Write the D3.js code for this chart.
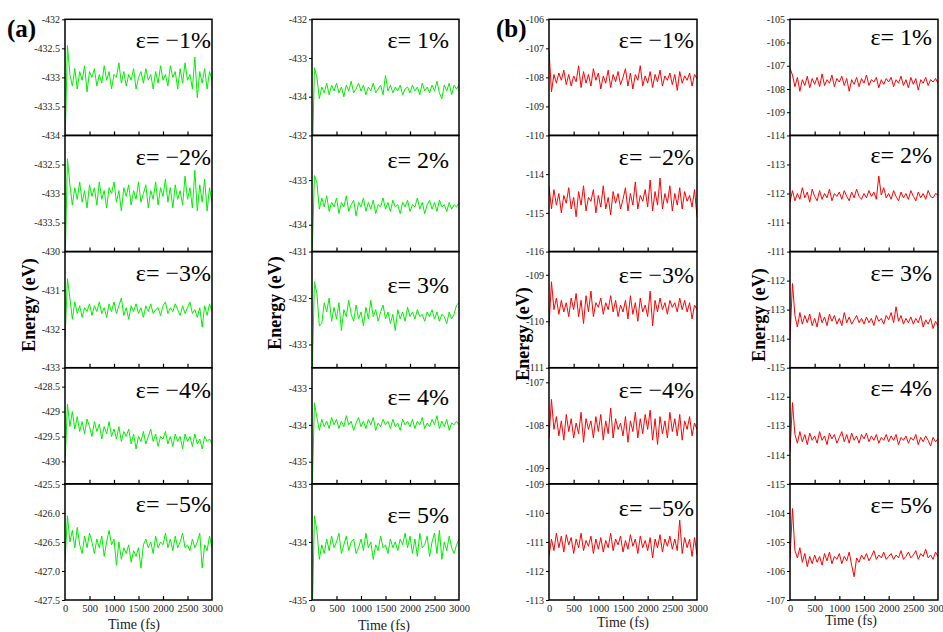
<!DOCTYPE html>
<html>
<head>
<meta charset="utf-8">
<script src="https://cdn.jsdelivr.net/npm/d3@7"></script>
<style>
  body { margin: 0; background: #fff; }
  text { font-family: "Liberation Serif", "Times New Roman", serif; }
</style>
</head>
<body>
<div id="chart"></div>
<script>
// sampling times (fs)
var timeFs = [0, 50, 100, 150, 200, 250, 300, 350, 400, 450,
  500, 550, 600, 650, 700, 750, 800, 850, 900, 950,
  1000, 1050, 1100, 1150, 1200, 1250, 1300, 1350, 1400, 1450,
  1500, 1550, 1600, 1650, 1700, 1750, 1800, 1850, 1900, 1950,
  2000, 2050, 2100, 2150, 2200, 2250, 2300, 2350, 2400, 2450,
  2500, 2550, 2600, 2650, 2700, 2750, 2800, 2850, 2900, 2950, 3000];
var timeTicks = ["0", "500", "1000", "1500", "2000", "2500", "3000"];

var strainNeg = ["ε= −1%", "ε= −2%", "ε= −3%", "ε= −4%", "ε= −5%"];
var strainPos = ["ε= 1%", "ε= 2%", "ε= 3%", "ε= 4%", "ε= 5%"];

// (a) negative strain, green
var aNeg1 = [-434.2, -432.45, -432.95, -433.15, -432.85, -433.2, -432.9, -433.05, -432.8, -433.25,
  -432.9, -433.0, -432.85, -433.15, -432.95, -433.1, -432.8, -433.05, -432.9, -433.2,
  -432.95, -433.0, -432.75, -433.1, -432.9, -433.15, -432.95, -433.05, -432.85, -433.2,
  -433.0, -432.9, -433.1, -432.85, -433.05, -432.95, -433.2, -432.9, -433.1, -432.8,
  -433.05, -432.95, -433.15, -432.8, -433.0, -432.9, -433.2, -432.85, -433.1, -432.75,
  -433.05, -432.95, -433.2, -432.65, -433.35, -432.9, -433.1, -432.85, -433.2, -432.9, -433.05];
var aNeg2 = [-434.3, -432.4, -432.85, -433.2, -432.9, -433.1, -432.8, -433.15, -432.95, -433.25,
  -432.85, -433.05, -432.9, -433.2, -432.8, -433.1, -432.95, -433.25, -432.9, -433.0,
  -432.8, -433.15, -432.95, -433.3, -432.9, -433.05, -432.85, -433.2, -432.95, -433.1,
  -432.8, -433.15, -433.0, -432.85, -433.25, -432.95, -433.1, -432.8, -433.2, -432.9,
  -433.05, -432.75, -433.15, -432.9, -433.25, -432.85, -433.1, -432.95, -433.2, -432.7,
  -433.1, -432.9, -433.25, -432.6, -433.3, -432.85, -433.15, -432.75, -433.3, -432.9, -433.15];
var aNeg3 = [-432.3, -430.7, -431.2, -431.75, -431.3, -431.6, -431.4, -431.7, -431.45, -431.55,
  -431.35, -431.65, -431.4, -431.55, -431.3, -431.6, -431.45, -431.7, -431.35, -431.55,
  -431.3, -431.6, -431.4, -431.2, -431.65, -431.45, -431.75, -431.4, -431.55, -431.35,
  -431.6, -431.45, -431.7, -431.4, -431.55, -431.35, -431.6, -431.5, -431.45, -431.65,
  -431.4, -431.3, -431.6, -431.45, -431.55, -431.35, -431.5, -431.65, -431.4, -431.6,
  -431.45, -431.3, -431.6, -431.5, -431.7, -431.45, -431.95, -431.4, -431.65, -431.35, -431.55];
var aNeg4 = [-430.1, -428.85, -429.3, -429.0, -429.35, -429.1, -429.4, -429.2, -429.45, -429.15,
  -429.3, -429.5, -429.2, -429.4, -429.25, -429.55, -429.3, -429.45, -429.2, -429.5,
  -429.35, -429.55, -429.3, -429.6, -429.4, -429.5, -429.35, -429.65, -429.45, -429.75,
  -429.5, -429.6, -429.4, -429.65, -429.5, -429.35, -429.6, -429.45, -429.7, -429.5,
  -429.55, -429.4, -429.65, -429.5, -429.7, -429.45, -429.6, -429.5, -429.75, -429.45,
  -429.6, -429.5, -429.7, -429.45, -429.65, -429.55, -429.75, -429.5, -429.6, -429.55, -429.65];
var aNeg5 = [-426.85, -426.05, -426.5, -426.3, -426.6, -426.25, -426.55, -426.7, -426.4, -426.6,
  -426.35, -426.5, -426.7, -426.45, -426.6, -426.4, -426.75, -426.5, -426.3, -426.55,
  -426.45, -426.9, -426.5, -426.8, -426.6, -426.7, -426.55, -426.85, -426.65, -426.75,
  -426.6, -426.95, -426.55, -426.45, -426.6, -426.5, -426.7, -426.4, -426.6, -426.5,
  -426.55, -426.35, -426.6, -426.45, -426.65, -426.4, -426.6, -426.5, -426.35, -426.6,
  -426.55, -426.65, -426.45, -426.6, -426.5, -426.35, -426.95, -426.55, -426.65, -426.4, -426.6];

// (a) positive strain, green
var aPos1 = [-436.0, -433.25, -433.5, -434.05, -433.75, -433.9, -433.65, -433.95, -433.7, -433.85,
  -433.65, -433.9, -433.75, -434.0, -433.7, -433.85, -433.6, -433.9, -433.8, -433.65,
  -433.85, -433.7, -433.95, -433.75, -433.85, -433.65, -433.9, -433.8, -433.7, -433.95,
  -433.45, -433.85, -433.7, -433.9, -433.75, -433.85, -433.7, -433.95, -433.8, -433.75,
  -433.9, -433.7, -433.85, -433.75, -433.95, -433.65, -433.85, -433.75, -433.9, -433.7,
  -433.85, -433.6, -433.9, -434.05, -433.7, -433.85, -433.65, -433.95, -433.7, -433.8, -433.7];
var aPos2 = [-434.8, -432.9, -433.05, -433.65, -433.4, -433.6, -433.35, -433.7, -433.5, -433.6,
  -433.4, -433.75, -433.5, -433.6, -433.35, -433.7, -433.55, -433.45, -433.8, -433.5,
  -433.6, -433.4, -433.7, -433.5, -433.65, -433.45, -433.75, -433.55, -433.6, -433.4,
  -433.65, -433.5, -433.7, -433.45, -433.6, -433.55, -433.75, -433.5, -433.6, -433.45,
  -433.7, -433.55, -433.6, -433.4, -433.65, -433.5, -433.75, -433.55, -433.45, -433.65,
  -433.5, -433.7, -433.45, -433.6, -433.55, -433.7, -433.5, -433.65, -433.55, -433.6, -433.5];
var aPos3 = [-433.8, -431.65, -431.9, -432.6, -432.55, -432.1, -432.3, -432.0, -432.5, -432.2,
  -432.45, -432.1, -432.7, -432.25, -432.4, -432.05, -432.35, -432.5, -432.15, -432.45,
  -432.3, -432.6, -432.2, -432.45, -432.05, -432.4, -432.25, -432.5, -432.3, -432.15,
  -432.45, -432.3, -432.55, -432.35, -432.7, -432.25, -432.45, -432.3, -432.5, -432.2,
  -432.4, -432.3, -432.45, -432.25, -432.4, -432.35, -432.5, -432.3, -432.4, -432.25,
  -432.45, -432.3, -432.5, -432.35, -432.4, -432.55, -432.3, -432.45, -432.35, -432.15, -432.1];
var aPos4 = [-436.0, -433.4, -433.8, -434.15, -433.85, -434.05, -433.9, -434.1, -433.8, -434.0,
  -433.85, -434.1, -433.9, -434.05, -433.75, -434.0, -433.9, -434.15, -433.95, -433.8,
  -434.05, -433.9, -434.1, -433.85, -434.0, -433.8, -434.15, -433.95, -434.05, -433.85,
  -434.0, -433.9, -434.1, -433.85, -434.05, -433.95, -434.15, -433.85, -434.0, -433.9,
  -434.05, -433.85, -434.1, -433.9, -434.0, -433.8, -434.1, -433.95, -434.05, -433.85,
  -434.0, -433.75, -434.1, -433.9, -434.05, -433.85, -434.15, -433.95, -434.0, -433.9, -434.0];
var aPos5 = [-435.5, -433.55, -433.8, -434.3, -434.05, -434.2, -433.95, -434.15, -433.9, -434.1,
  -434.0, -433.85, -434.2, -434.05, -433.9, -434.15, -434.0, -433.95, -434.2, -434.1,
  -433.95, -434.15, -433.85, -434.1, -434.0, -434.3, -434.05, -434.15, -433.9, -434.1,
  -434.05, -434.2, -433.95, -434.1, -434.0, -434.15, -433.95, -434.05, -433.85, -434.1,
  -433.9, -434.2, -433.95, -434.25, -433.85, -434.1, -434.05, -433.9, -434.25, -434.0,
  -433.85, -434.2, -433.8, -434.3, -434.0, -434.15, -433.9, -434.1, -434.2, -434.05, -433.95];

// (b) negative strain, red
var bNeg1 = [-107.05, -108.5, -107.9, -108.2, -107.85, -108.1, -107.75, -108.25, -107.9, -108.3,
  -107.95, -108.15, -107.6, -108.35, -107.8, -108.2, -107.9, -108.3, -107.7, -108.1,
  -107.85, -108.4, -107.95, -108.2, -107.75, -108.35, -107.9, -108.15, -107.8, -108.25,
  -108.0, -107.7, -108.3, -107.85, -108.4, -107.9, -108.1, -107.6, -108.3, -107.95,
  -108.2, -107.8, -108.35, -107.9, -108.15, -107.75, -108.3, -107.95, -108.1, -107.85,
  -108.25, -107.9, -108.45, -107.8, -108.2, -107.95, -108.1, -107.85, -108.3, -107.9, -108.05];
var bNeg2 = [-114.3, -114.9, -114.4, -114.8, -114.5, -115.0, -114.55, -114.75, -114.35, -114.9,
  -114.6, -115.1, -114.45, -114.8, -114.3, -114.95, -114.6, -114.7, -114.4, -115.0,
  -114.55, -114.85, -114.3, -114.9, -114.6, -115.05, -114.45, -114.75, -114.5, -114.9,
  -114.65, -114.35, -114.95, -114.5, -114.8, -114.2, -114.9, -114.55, -114.7, -114.4,
  -114.85, -114.15, -114.95, -114.45, -114.8, -114.1, -114.9, -114.5, -114.75, -114.3,
  -114.95, -114.5, -114.8, -114.35, -114.9, -114.45, -114.7, -114.55, -114.85, -114.4, -115.1];
var bNeg3 = [-110.1, -109.15, -109.75, -109.5, -109.85, -109.55, -109.8, -109.6, -109.9, -109.5,
  -109.75, -109.4, -109.9, -109.55, -110.05, -109.45, -109.8, -109.35, -109.9, -109.6,
  -109.7, -109.5, -109.85, -109.6, -109.75, -109.45, -109.8, -109.55, -109.9, -109.65,
  -109.8, -109.55, -109.95, -109.45, -109.85, -109.6, -110.0, -109.5, -109.8, -109.65,
  -109.9, -109.35, -110.1, -109.55, -109.8, -109.5, -109.75, -109.6, -109.85, -109.55,
  -109.7, -109.6, -109.8, -109.5, -109.75, -109.55, -109.8, -109.6, -109.95, -109.65, -109.75];
var bNeg4 = [-108.3, -107.4, -108.1, -107.8, -108.25, -107.9, -108.35, -107.75, -108.15, -107.85,
  -108.3, -107.95, -108.2, -107.7, -108.4, -107.85, -108.1, -107.9, -108.3, -107.8,
  -108.15, -107.75, -108.35, -107.9, -108.2, -107.6, -108.3, -107.85, -108.1, -107.95,
  -108.25, -107.8, -108.4, -107.9, -108.15, -107.7, -108.3, -107.85, -108.2, -107.75,
  -108.1, -107.65, -108.35, -107.85, -108.45, -107.8, -108.2, -107.9, -108.3, -107.7,
  -108.15, -107.85, -108.25, -107.75, -108.35, -107.9, -108.1, -107.8, -108.25, -107.95, -108.1];
var bNeg5 = [-111.5, -110.9, -111.3, -110.7, -111.2, -110.8, -111.35, -110.75, -111.1, -110.85,
  -111.4, -110.9, -111.2, -110.7, -111.3, -110.95, -111.15, -110.8, -111.4, -110.9,
  -111.25, -110.85, -111.35, -110.95, -111.2, -110.7, -111.3, -110.9, -111.1, -110.8,
  -111.35, -110.95, -111.25, -110.75, -111.15, -110.9, -111.4, -110.8, -111.2, -110.95,
  -111.3, -110.85, -111.55, -110.9, -111.2, -110.75, -111.35, -110.9, -111.15, -110.8,
  -111.25, -110.9, -111.3, -110.25, -111.4, -110.85, -111.2, -110.9, -111.5, -110.85, -111.45];

// (b) positive strain, red
var bPos1 = [-107.1, -107.4, -107.9, -107.5, -108.1, -107.6, -107.85, -107.45, -107.95, -107.55,
  -107.8, -107.5, -107.9, -107.35, -107.85, -107.6, -107.75, -107.4, -107.9, -107.55,
  -107.7, -107.45, -107.85, -107.55, -108.1, -107.6, -107.8, -107.5, -107.9, -107.55,
  -107.75, -107.4, -107.85, -107.6, -107.7, -107.5, -107.95, -107.6, -107.8, -107.55,
  -107.7, -107.5, -107.9, -107.6, -107.75, -107.45, -107.85, -107.6, -107.95, -107.5,
  -107.8, -107.55, -108.05, -107.6, -107.75, -107.5, -107.85, -107.6, -107.7, -107.55, -107.75];
var bPos2 = [-111.7, -112.1, -111.75, -112.0, -111.8, -112.2, -111.85, -112.05, -111.7, -112.15,
  -111.9, -111.75, -112.1, -111.8, -112.0, -111.85, -112.15, -111.75, -112.0, -111.9,
  -112.05, -111.8, -112.1, -111.9, -111.75, -112.05, -111.85, -112.15, -111.9, -111.8,
  -112.0, -111.85, -112.1, -111.9, -112.05, -111.8, -112.6, -111.95, -112.2, -111.85,
  -112.0, -111.8, -112.1, -111.9, -111.75, -112.05, -111.85, -112.0, -111.8, -112.1,
  -111.9, -111.75, -112.05, -111.85, -112.0, -111.8, -112.1, -111.9, -111.85, -112.0, -111.95];
var bPos3 = [-114.0, -112.1, -113.2, -113.6, -113.1, -113.5, -113.2, -113.45, -113.15, -113.55,
  -113.3, -113.6, -113.1, -113.45, -113.25, -113.55, -113.15, -113.4, -113.2, -113.5,
  -113.3, -113.55, -113.1, -113.45, -113.25, -113.5, -113.35, -113.2, -113.45, -113.3,
  -113.5, -113.25, -113.45, -113.3, -113.55, -113.2, -113.4, -113.3, -113.5, -113.2,
  -113.35, -113.1, -113.45, -112.9, -113.4, -113.2, -113.5, -113.3, -113.45, -113.25,
  -113.5, -113.3, -113.45, -113.2, -113.6, -113.35, -113.5, -113.3, -113.65, -113.4, -113.55];
var bPos4 = [-113.9, -112.2, -113.3, -113.6, -113.2, -113.55, -113.3, -113.65, -113.25, -113.5,
  -113.35, -113.6, -113.2, -113.5, -113.35, -113.65, -113.25, -113.45, -113.3, -113.6,
  -113.4, -113.2, -113.55, -113.3, -113.6, -113.25, -113.5, -113.35, -113.6, -113.3,
  -113.45, -113.25, -113.55, -113.35, -113.5, -113.3, -113.6, -113.4, -113.5, -113.3,
  -113.55, -113.35, -113.5, -113.3, -113.65, -113.4, -113.5, -113.35, -113.6, -113.4,
  -113.5, -113.3, -113.65, -113.4, -113.55, -113.35, -113.5, -113.7, -113.4, -113.55, -113.45];
var bPos5 = [-105.6, -103.85, -105.3, -105.55, -105.2, -105.7, -105.4, -105.85, -105.5, -105.75,
  -105.45, -105.7, -105.5, -105.8, -105.4, -105.65, -105.35, -105.75, -105.5, -105.6,
  -105.4, -105.75, -105.5, -105.65, -105.35, -105.8, -106.2, -105.55, -105.7, -105.45,
  -105.6, -105.4, -105.65, -105.5, -105.3, -105.6, -105.45, -105.55, -105.35, -105.6,
  -105.5, -105.4, -105.6, -105.45, -105.55, -105.3, -105.6, -105.5, -105.35, -105.55,
  -105.45, -105.3, -105.6, -105.4, -105.5, -105.25, -105.55, -105.45, -105.6, -105.35, -105.5];

// y ranges [bottom, top] and tick labels per panel
var aNegRange = [[-434, -432], [-434, -432], [-433, -430], [-430.45, -428.12], [-427.5, -425.5]];
var aNegTicks = [["-432", "-432.5", "-433", "-433.5", "-434"], ["-432.5", "-433", "-433.5"],
  ["-430", "-431", "-432", "-433"], ["-428.5", "-429", "-429.5", "-430"],
  ["-425.5", "-426.0", "-426.5", "-427.0", "-427.5"]];
var aPosRange = [[-435, -432], [-434.6, -432], [-433.5, -431], [-435.6, -432.45], [-435, -433]];
var aPosTicks = [["-432", "-433", "-434"], ["-432", "-433", "-434"], ["-431", "-432", "-433"],
  ["-433", "-434", "-435"], ["-433", "-434", "-435"]];
var bNegRange = [[-110, -106], [-116, -113], [-111, -108.5], [-109.37, -106.66], [-113, -109]];
var bNegTicks = [["-106", "-107", "-108", "-109", "-110"], ["-114", "-115", "-116"],
  ["-109", "-110", "-111"], ["-107", "-108", "-109"], ["-109", "-110", "-111", "-112", "-113"]];
var bPosRange = [[-110, -105], [-110, -114], [-115, -111], [-115, -111], [-107, -103]];
var bPosTicks = [["-105", "-106", "-107", "-108", "-109"], ["-114", "-113", "-112", "-111"],
  ["-111", "-112", "-113", "-114", "-115"], ["-112", "-113", "-114", "-115"],
  ["-104", "-105", "-106", "-107"]];

var width = 943, height = 632;
var top0 = 19.3, rowH = 116.14;

var columns = [
  { left: 65, right: 212, series: [aNeg1, aNeg2, aNeg3, aNeg4, aNeg5], range: aNegRange, ticks: aNegTicks,
    labels: strainNeg, color: "#00ee00", labelDy: [29, 30, 29, 30, 28], labelPad: 1,
    energyX: 29, energyY: 305, timeX: 134, timeY: 629 },
  { left: 312, right: 459, series: [aPos1, aPos2, aPos3, aPos4, aPos5], range: aPosRange, ticks: aPosTicks,
    labels: strainPos, color: "#00ee00", labelDy: [29, 33, 41, 37, 39], labelPad: 10,
    energyX: 275, energyY: 303, timeX: 384, timeY: 630 },
  { left: 549, right: 697, series: [bNeg1, bNeg2, bNeg3, bNeg4, bNeg5], range: bNegRange, ticks: bNegTicks,
    labels: strainNeg, color: "#ff0000", labelDy: [29, 30, 31, 30, 32], labelPad: 3,
    energyX: 523, energyY: 334, timeX: 623, timeY: 627 },
  { left: 790, right: 938, series: [bPos1, bPos2, bPos3, bPos4, bPos5], range: bPosRange, ticks: bPosTicks,
    labels: strainPos, color: "#ff0000", labelDy: [26, 28, 29, 28, 29], labelPad: 6,
    energyX: 759, energyY: 315, timeX: 851, timeY: 625 }
];

var svg = d3.select("#chart").append("svg")
  .attr("width", width)
  .attr("height", height);

var defs = svg.append("defs");

columns.forEach(function(col, ci) {
  var x = d3.scaleLinear().domain([0, 3000]).range([col.left, col.right]);

  col.series.forEach(function(vals, ri) {
    var y0 = top0 + ri * rowH, y1 = y0 + rowH;
    var y = d3.scaleLinear().domain(col.range[ri]).range([y1, y0]);
    var clipId = "clip-" + ci + "-" + ri;

    defs.append("clipPath").attr("id", clipId)
      .append("rect")
      .attr("x", col.left).attr("y", y0)
      .attr("width", col.right - col.left).attr("height", rowH);

    var line = d3.line()
      .x(function(d, i) { return x(timeFs[i]); })
      .y(function(d) { return y(d); });

    svg.append("path")
      .datum(vals)
      .attr("clip-path", "url(#" + clipId + ")")
      .attr("fill", "none")
      .attr("stroke", col.color)
      .attr("stroke-width", 1)
      .attr("d", line);

    // y axis ticks
    var labs = col.ticks[ri];
    var yAxis = d3.axisLeft(y)
      .tickValues(labs.map(Number))
      .tickSize(3)
      .tickPadding(2)
      .tickFormat(function(d, i) { return labs[i]; });
    var gy = svg.append("g")
      .attr("transform", "translate(" + col.left + ",0)")
      .call(yAxis);
    gy.select(".domain").remove();
    gy.selectAll("text")
      .attr("font-size", "10px")
      .attr("fill", "#222");
    gy.selectAll("line").attr("stroke", "#000");

    // inner ticks on bottom edge
    var xAxis = d3.axisBottom(x)
      .tickValues([500, 1000, 1500, 2000, 2500])
      .tickSize(-4)
      .tickFormat("");
    var gx = svg.append("g")
      .attr("transform", "translate(0," + y1 + ")")
      .call(xAxis);
    gx.select(".domain").remove();
    gx.selectAll("line").attr("stroke", "#000").attr("stroke-width", 1.2);

    // frame
    svg.append("rect")
      .attr("x", col.left).attr("y", y0)
      .attr("width", col.right - col.left).attr("height", rowH)
      .attr("fill", "none")
      .attr("stroke", "#000")
      .attr("stroke-width", 1.5);

    // strain label
    svg.append("text")
      .attr("x", col.right - col.labelPad)
      .attr("y", y0 + col.labelDy[ri])
      .attr("text-anchor", "end")
      .attr("font-size", "24px")
      .attr("fill", "#000")
      .text(col.labels[ri]);
  });

  // time tick labels on the bottom row
  var yBottom = top0 + 5 * rowH;
  var tAxis = d3.axisBottom(x)
    .tickValues(timeTicks.map(Number))
    .tickSize(0)
    .tickPadding(5)
    .tickFormat(function(d, i) { return timeTicks[i]; });
  var gt = svg.append("g")
    .attr("transform", "translate(0," + yBottom + ")")
    .call(tAxis);
  gt.select(".domain").remove();
  gt.selectAll("text")
    .attr("font-size", "10.5px")
    .attr("fill", "#222");

  svg.append("text")
    .attr("x", col.timeX)
    .attr("y", col.timeY)
    .attr("text-anchor", "middle")
    .attr("font-size", "14px")
    .attr("fill", "#222")
    .text("Time (fs)");

  svg.append("text")
    .attr("transform", "translate(" + col.energyX + "," + col.energyY + ") rotate(-90)")
    .attr("text-anchor", "middle")
    .attr("dy", "0.35em")
    .attr("font-size", "18px")
    .attr("font-weight", "bold")
    .attr("fill", "#000")
    .text("Energy (eV)");
});

svg.append("text")
  .attr("x", 7).attr("y", 37)
  .attr("font-size", "25px").attr("font-weight", "bold")
  .text("(a)");
svg.append("text")
  .attr("x", 496).attr("y", 37)
  .attr("font-size", "25px").attr("font-weight", "bold")
  .text("(b)");
</script>
</body>
</html>
